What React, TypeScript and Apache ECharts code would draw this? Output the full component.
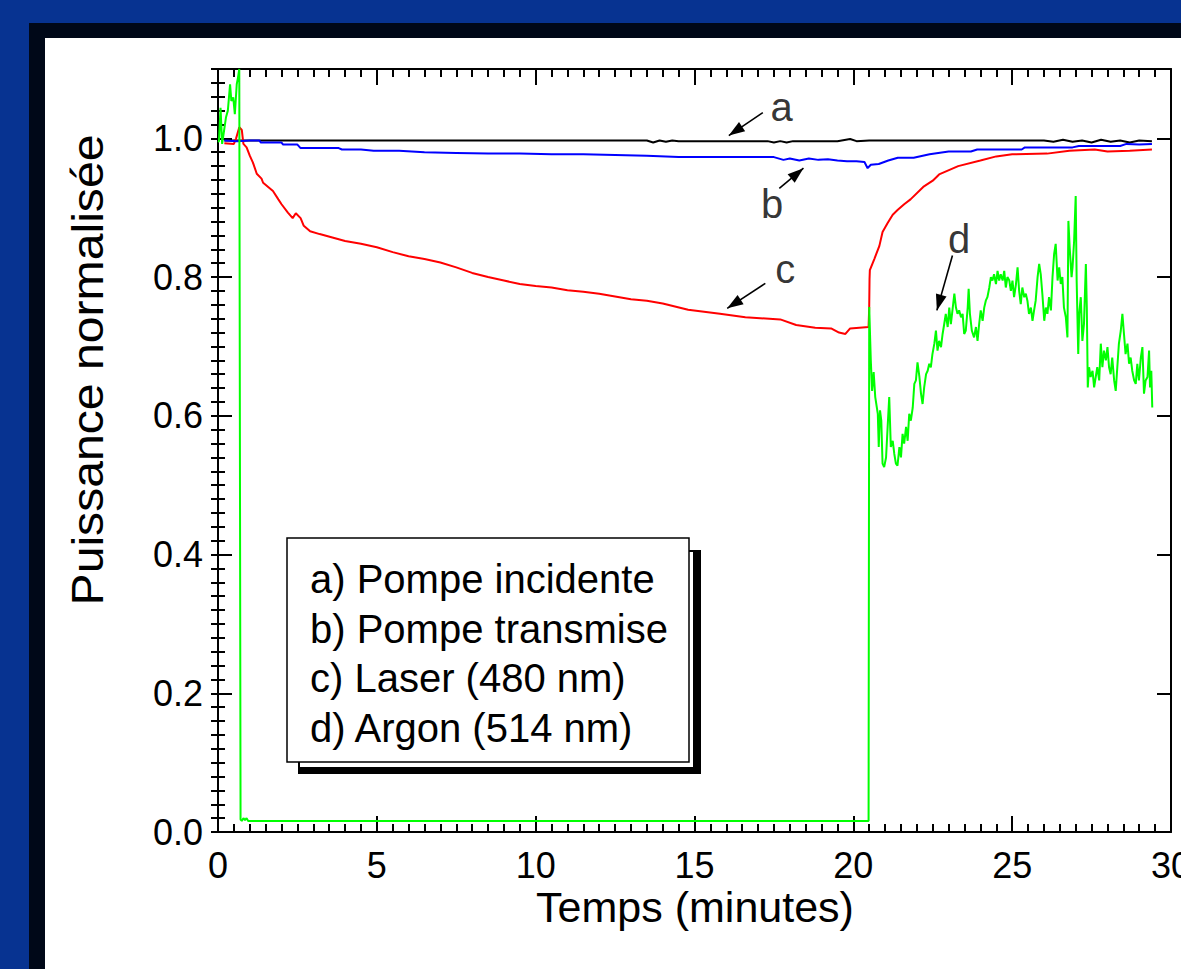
import React, { useEffect, useRef } from "react";
import * as echarts from "echarts";

const FONT = "'Liberation Sans', Arial, Helvetica, sans-serif";

// Axis ranges / ticks
const xMin = 0;
const xMax = 30;
const xMajor = 5;
const yMin = 0;
const yMax = 1.1;
const yMajor = 0.2;
const yMinor = 0.02;

const xTitle = "Temps (minutes)";
const yTitle = "Puissance normalisée";

const legendLines = [
  "a) Pompe incidente",
  "b) Pompe transmise",
  "c) Laser (480 nm)",
  "d) Argon (514 nm)",
];

// a) Pompe incidente  [minutes, normalised power]
const pompeIncidente: [number, number][] = [
  [0.2, 0.997], [2, 0.997], [5, 0.997], [8, 0.997], [11, 0.997], [13.5, 0.997],
  [13.7, 0.994], [13.9, 0.997], [14.1, 0.995], [14.3, 0.997], [14.5, 0.996],
  [16, 0.996], [17.3, 0.996], [17.5, 0.994], [17.7, 0.996], [17.9, 0.994],
  [18.1, 0.996], [18.5, 0.996], [19.5, 0.996], [19.9, 0.999], [20.1, 0.996],
  [20.5, 0.997], [22, 0.997], [24, 0.997], [26, 0.997], [26.3, 0.995],
  [26.6, 0.998], [26.9, 0.995], [27.2, 0.997], [27.5, 0.994], [27.8, 0.998],
  [28.1, 0.995], [28.4, 0.997], [28.7, 0.994], [29.0, 0.997], [29.4, 0.996],
];

// b) Pompe transmise
const pompeTransmise: [number, number][] = [
  [0.2, 0.997], [0.6, 0.996], [1.0, 0.997], [1.3, 0.997], [1.35, 0.994],
  [2.0, 0.994], [2.05, 0.991], [2.5, 0.991], [2.6, 0.986], [3.0, 0.986],
  [3.8, 0.986], [3.9, 0.984], [4.5, 0.984], [4.9, 0.982], [5.7, 0.982],
  [6.5, 0.98], [7.5, 0.979], [8.5, 0.978], [9.5, 0.978], [10.5, 0.977],
  [11.5, 0.977], [12.5, 0.976], [13.5, 0.975], [14.5, 0.973], [15.5, 0.973],
  [16.5, 0.973], [17.5, 0.973], [17.8, 0.969], [18.0, 0.971], [18.3, 0.968],
  [18.6, 0.971], [18.9, 0.969], [19.2, 0.97], [19.5, 0.968], [19.8, 0.967],
  [20.1, 0.967], [20.35, 0.966], [20.45, 0.957], [20.55, 0.962], [20.8, 0.963],
  [21.1, 0.968], [21.4, 0.972], [21.9, 0.972], [22.4, 0.977], [23.0, 0.981],
  [23.7, 0.981], [23.9, 0.984], [24.5, 0.984], [25.3, 0.984], [25.4, 0.987],
  [26.2, 0.987], [26.9, 0.987], [27.1, 0.989], [27.8, 0.989], [28.4, 0.989],
  [28.6, 0.992], [29.0, 0.991], [29.4, 0.992],
];

// c) Laser (480 nm)
const laser480: [number, number][] = [
  [0.2, 0.993], [0.5, 0.992], [0.57, 1.0], [0.67, 1.016], [0.75, 1.012],
  [0.8, 0.992], [0.9, 0.987], [1.0, 0.975], [1.1, 0.965], [1.16, 0.957],
  [1.22, 0.949], [1.37, 0.942], [1.42, 0.936], [1.73, 0.924], [1.9, 0.912],
  [2.0, 0.905], [2.2, 0.893], [2.35, 0.885], [2.45, 0.892], [2.6, 0.885],
  [2.7, 0.874], [2.9, 0.866], [3.2, 0.862], [3.6, 0.857], [4.0, 0.852],
  [4.5, 0.848], [5.0, 0.843], [5.5, 0.836], [6.0, 0.83], [6.5, 0.826],
  [7.0, 0.821], [7.5, 0.814], [8.0, 0.806], [8.5, 0.8], [9.0, 0.795],
  [9.5, 0.79], [10.0, 0.787], [10.5, 0.785], [11.0, 0.781], [11.5, 0.779],
  [12.0, 0.776], [12.5, 0.772], [13.0, 0.768], [13.5, 0.766], [14.0, 0.762],
  [14.8, 0.753], [15.8, 0.747], [16.6, 0.742], [17.7, 0.739], [18.2, 0.731],
  [18.8, 0.727], [19.3, 0.726], [19.55, 0.72], [19.75, 0.718], [19.9, 0.726],
  [20.48, 0.728], [20.5, 0.757], [20.51, 0.797], [20.52, 0.81], [20.66, 0.826],
  [20.82, 0.845], [20.92, 0.865], [21.08, 0.878], [21.24, 0.89], [21.4, 0.897],
  [21.6, 0.905], [21.8, 0.912], [22.2, 0.93], [22.5, 0.939], [22.7, 0.948],
  [23.3, 0.96], [24.0, 0.968], [24.5, 0.974], [25.0, 0.977], [26.1, 0.978],
  [26.8, 0.982], [27.6, 0.984], [28.0, 0.981], [28.7, 0.982], [29.4, 0.984],
];

// d) Argon (514 nm): start, dark interval, recovery
const argonStart: [number, number][] = [
  [0, 0.995], [0.03, 0.996], [0.08, 1.044], [0.13, 0.992], [0.19, 1.011],
  [0.25, 1.03], [0.31, 1.04], [0.38, 1.078], [0.42, 1.054], [0.48, 1.059],
  [0.53, 1.035], [0.59, 1.078], [0.63, 1.088], [0.67, 1.1], [0.71, 0.018],
  [0.75, 0.016], [0.8, 0.02], [0.85, 0.017], [0.9, 0.02], [0.95, 0.016],
  [20.48, 0.016],
];

const argonRecovery: [number, number][] = [
  [20.5, 0.757], [20.55, 0.68], [20.59, 0.636], [20.64, 0.663], [20.69, 0.627],
  [20.77, 0.603], [20.8, 0.555], [20.84, 0.608], [20.88, 0.593], [20.92, 0.531],
  [20.97, 0.526], [21.03, 0.54], [21.08, 0.584], [21.13, 0.627], [21.18, 0.555],
  [21.24, 0.564], [21.29, 0.545], [21.34, 0.531], [21.39, 0.528], [21.45, 0.555],
  [21.5, 0.54], [21.55, 0.574], [21.6, 0.56], [21.66, 0.584], [21.71, 0.564],
  [21.76, 0.603], [21.81, 0.593], [21.87, 0.612], [21.92, 0.646], [21.97, 0.651],
  [22.02, 0.677], [22.08, 0.656], [22.13, 0.632], [22.18, 0.617], [22.23, 0.641],
  [22.29, 0.66], [22.34, 0.665], [22.39, 0.675], [22.44, 0.67], [22.49, 0.689],
  [22.55, 0.704], [22.6, 0.723], [22.65, 0.694], [22.7, 0.708], [22.76, 0.699],
  [22.81, 0.718], [22.86, 0.732], [22.91, 0.747], [22.97, 0.728], [23.02, 0.756],
  [23.07, 0.732], [23.12, 0.752], [23.18, 0.776], [23.23, 0.756], [23.28, 0.747],
  [23.33, 0.752], [23.39, 0.742], [23.44, 0.747], [23.49, 0.718], [23.54, 0.723],
  [23.6, 0.756], [23.63, 0.783], [23.67, 0.747], [23.73, 0.723], [23.8, 0.713],
  [23.86, 0.728], [23.91, 0.708], [23.96, 0.732], [24.01, 0.752], [24.07, 0.737],
  [24.12, 0.756], [24.17, 0.766], [24.22, 0.771], [24.28, 0.785], [24.33, 0.8],
  [24.38, 0.795], [24.43, 0.804], [24.49, 0.79], [24.54, 0.809], [24.59, 0.795],
  [24.64, 0.804], [24.7, 0.795], [24.75, 0.809], [24.8, 0.785], [24.85, 0.8],
  [24.91, 0.795], [24.96, 0.78], [25.01, 0.795], [25.06, 0.771], [25.12, 0.79],
  [25.17, 0.814], [25.22, 0.78], [25.27, 0.761], [25.32, 0.785], [25.38, 0.771],
  [25.43, 0.776], [25.48, 0.766], [25.53, 0.747], [25.59, 0.756], [25.64, 0.737],
  [25.69, 0.752], [25.74, 0.766], [25.8, 0.8], [25.85, 0.819], [25.9, 0.804],
  [25.95, 0.776], [26.01, 0.737], [26.06, 0.756], [26.11, 0.747], [26.16, 0.771],
  [26.22, 0.752], [26.27, 0.8], [26.32, 0.833], [26.37, 0.848], [26.43, 0.795],
  [26.48, 0.814], [26.53, 0.79], [26.58, 0.8], [26.63, 0.756], [26.69, 0.742],
  [26.74, 0.713], [26.77, 0.881], [26.81, 0.843], [26.87, 0.8], [26.9, 0.814],
  [26.95, 0.852], [27.0, 0.917], [27.03, 0.795], [27.08, 0.689], [27.11, 0.747],
  [27.16, 0.771], [27.21, 0.708], [27.26, 0.732], [27.32, 0.819], [27.35, 0.756],
  [27.38, 0.641], [27.42, 0.67], [27.47, 0.656], [27.53, 0.665], [27.58, 0.641],
  [27.63, 0.656], [27.68, 0.67], [27.74, 0.651], [27.79, 0.704], [27.84, 0.67],
  [27.89, 0.694], [27.95, 0.68], [28.0, 0.699], [28.05, 0.67], [28.1, 0.66],
  [28.15, 0.684], [28.21, 0.651], [28.26, 0.636], [28.31, 0.67], [28.36, 0.704],
  [28.42, 0.723], [28.47, 0.747], [28.52, 0.718], [28.57, 0.689], [28.63, 0.704],
  [28.68, 0.675], [28.73, 0.684], [28.78, 0.665], [28.84, 0.651], [28.89, 0.646],
  [28.94, 0.675], [28.99, 0.651], [29.05, 0.684], [29.1, 0.699], [29.15, 0.632],
  [29.2, 0.651], [29.26, 0.656], [29.31, 0.694], [29.34, 0.641], [29.38, 0.665],
  [29.41, 0.612],
];

// curve letters (data coordinates)
const curveLetters = [
  { name: "a", value: [17.74, 1.045] },
  { name: "b", value: [17.44, 0.906] },
  { name: "c", value: [17.86, 0.812] },
  { name: "d", value: [23.33, 0.855] },
];

// arrows: [from, to(tip)]
const arrows: [number, number][][] = [
  [[17.15, 1.037], [16.08, 1.004]],
  [[17.67, 0.928], [18.43, 0.957]],
  [[17.23, 0.791], [16.03, 0.755]],
  [[23.12, 0.831], [22.63, 0.752]],
];

export default function App() {
  const ref = useRef<HTMLDivElement>(null);

  useEffect(() => {
    if (!ref.current) return;
    const chart = echarts.init(ref.current, undefined, { renderer: "svg" });

    const frame = { color: "#000", width: 2 };
    const baseX = {
      type: "value",
      min: xMin,
      max: xMax,
      interval: xMajor,
      axisLine: { show: true, onZero: false, lineStyle: frame },
      axisTick: { show: true, inside: true, length: 16, lineStyle: frame },
      minorTick: { show: true, splitNumber: 10, length: 8, lineStyle: frame },
      splitLine: { show: false },
      minorSplitLine: { show: false },
    };
    const baseY = {
      type: "value",
      min: yMin,
      max: yMax,
      splitLine: { show: false },
    };

    const option: any = {
      animation: false,
      backgroundColor: "#073391",
      grid: {
        left: 218,
        right: 10,
        top: 69,
        bottom: 137,
        containLabel: false,
        outerBoundsMode: "none",
      },
      xAxis: [
        {
          ...baseX,
          position: "bottom",
          axisLabel: {
            show: true,
            margin: 15,
            fontSize: 36,
            fontFamily: FONT,
            color: "#000",
            hideOverlap: false,
            formatter: (v: number) => String(v),
          },
        },
        { ...baseX, position: "top", axisLabel: { show: false } },
      ],
      yAxis: [
        {
          ...baseY,
          position: "left",
          interval: yMajor,
          axisLine: { show: true, onZero: false, lineStyle: frame },
          axisTick: { show: true, inside: true, length: 14, lineStyle: frame },
          axisLabel: {
            show: true,
            margin: 15,
            fontSize: 36,
            fontFamily: FONT,
            color: "#000",
            formatter: (v: number) => (v > 1.05 ? "" : v.toFixed(1)),
          },
        },
        {
          ...baseY,
          position: "left",
          interval: yMinor,
          axisLine: { show: false },
          axisTick: { show: true, inside: true, length: 7, lineStyle: frame },
          axisLabel: { show: false },
        },
        {
          ...baseY,
          position: "right",
          interval: yMajor,
          axisLine: { show: true, onZero: false, lineStyle: frame },
          axisTick: { show: true, inside: true, length: 14, lineStyle: frame },
          axisLabel: { show: false },
        },
        {
          ...baseY,
          position: "right",
          interval: yMinor,
          axisLine: { show: false },
          axisTick: { show: true, inside: true, length: 7, lineStyle: frame },
          axisLabel: { show: false },
        },
      ],
      series: [
        {
          name: "a",
          type: "line",
          data: pompeIncidente,
          showSymbol: false,
          lineStyle: { color: "#000000", width: 2 },
          z: 2,
          markLine: {
            silent: true,
            symbol: ["none", "triangle"],
            symbolSize: [11, 16],
            label: { show: false },
            lineStyle: { color: "#000", width: 1.6, type: "solid" },
            emphasis: { disabled: true },
            data: arrows.map((a) => [
              { coord: a[0], symbol: "none" },
              { coord: a[1], symbol: "triangle", symbolOffset: [0, 8] },
            ]),
          },
        },
        {
          name: "c",
          type: "line",
          data: laser480,
          showSymbol: false,
          lineStyle: { color: "#ff0000", width: 2 },
          z: 3,
        },
        {
          name: "b",
          type: "line",
          data: pompeTransmise,
          showSymbol: false,
          lineStyle: { color: "#0000ff", width: 2 },
          z: 4,
        },
        {
          name: "d",
          type: "line",
          data: [...argonStart, ...argonRecovery],
          showSymbol: false,
          lineStyle: { color: "#00ff00", width: 2 },
          z: 5,
        },
        {
          name: "letters",
          type: "scatter",
          data: curveLetters,
          symbolSize: 1,
          itemStyle: { color: "rgba(0,0,0,0)" },
          silent: true,
          z: 6,
          label: {
            show: true,
            position: "inside",
            formatter: "{b}",
            fontSize: 40,
            fontFamily: FONT,
            color: "#000",
          },
        },
      ],
      graphic: [
        {
          type: "rect",
          z: -100,
          silent: true,
          shape: { x: 29, y: 23, width: 1181 - 29, height: 969 - 23 },
          style: { fill: "#000818" },
        },
        {
          type: "rect",
          z: -99,
          silent: true,
          shape: { x: 45, y: 38, width: 1181 - 45, height: 969 - 38 },
          style: { fill: "#ffffff" },
        },
        {
          type: "text",
          z: 10,
          x: 695,
          y: 907,
          style: {
            text: xTitle,
            fontSize: 43,
            fontFamily: FONT,
            fill: "#000",
            align: "center",
            verticalAlign: "middle",
            textAlign: "center",
            textVerticalAlign: "middle",
          },
        },
        {
          type: "text",
          z: 10,
          x: 88,
          y: 370,
          rotation: Math.PI / 2,
          scaleX: 1.07,
          style: {
            text: yTitle,
            fontSize: 45,
            fontFamily: FONT,
            fill: "#000",
            align: "center",
            verticalAlign: "middle",
            textAlign: "center",
            textVerticalAlign: "middle",
          },
        },
        {
          type: "group",
          z: 20,
          children: [
            {
              type: "rect",
              z: 20,
              shape: { x: 298, y: 550, width: 403, height: 224 },
              style: { fill: "#000" },
            },
            {
              type: "rect",
              z: 21,
              shape: { x: 300, y: 552, width: 393, height: 215 },
              style: { fill: "#fff" },
            },
            {
              type: "rect",
              z: 22,
              shape: { x: 287, y: 538, width: 402, height: 224 },
              style: { fill: "#fff", stroke: "#000", lineWidth: 1.5 },
            },
            ...legendLines.map((t, i) => ({
              type: "text",
              z: 23,
              x: 310,
              y: 579 + i * 49.5,
              style: {
                text: t,
                fontSize: 40,
                fontFamily: FONT,
                fill: "#000",
                align: "left",
                verticalAlign: "middle",
                textAlign: "left",
                textVerticalAlign: "middle",
              },
            })),
          ],
        },
      ],
    };

    chart.setOption(option);
    return () => {
      chart.dispose();
    };
  }, []);

  return (
    <div
      ref={ref}
      style={{ position: "fixed", left: 0, top: 0, width: 1181, height: 969 }}
    />
  );
}
